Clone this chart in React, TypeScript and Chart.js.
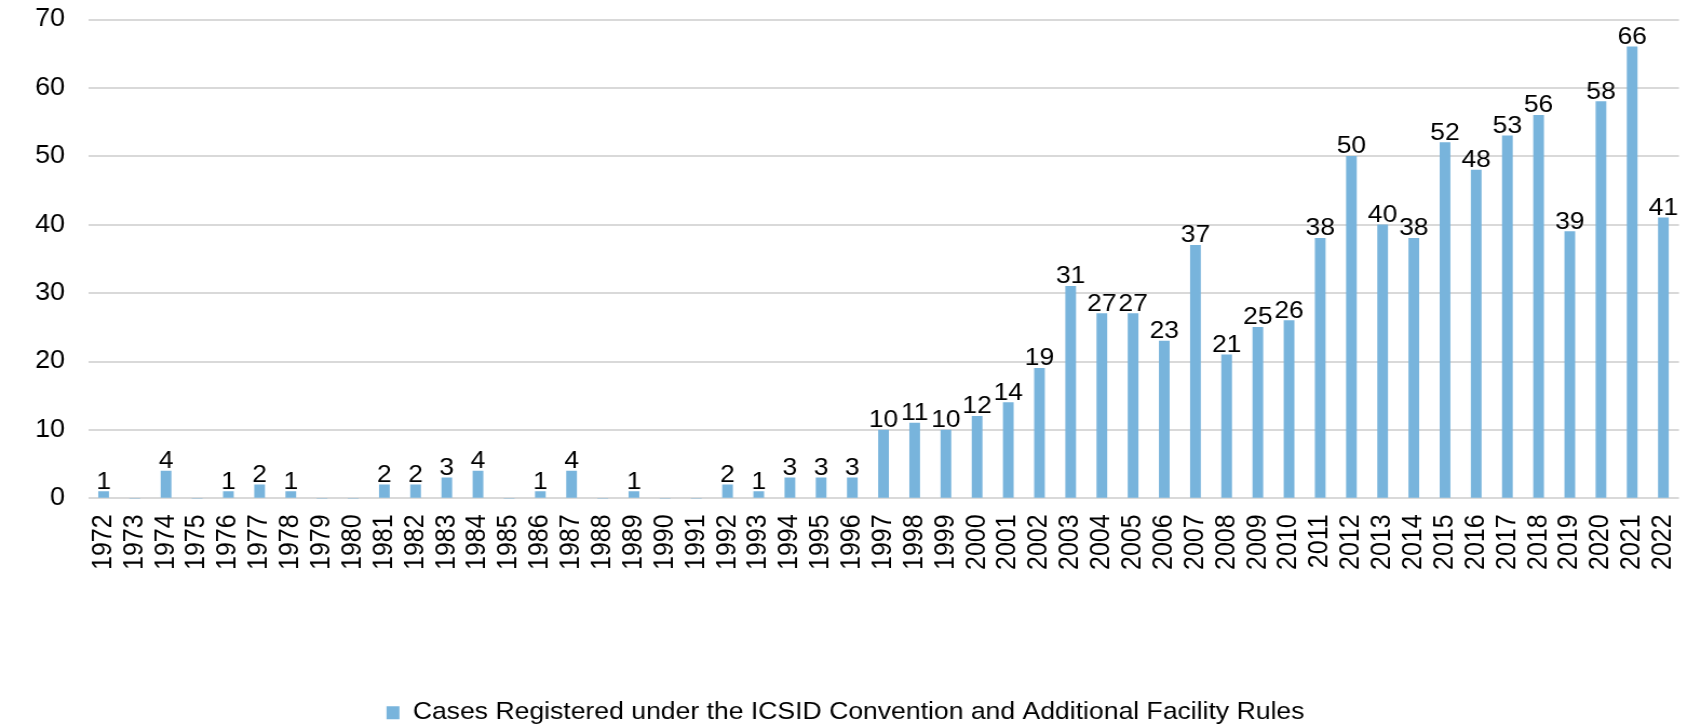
import React, { useEffect, useRef } from "react";
import { Chart, registerables } from "chart.js";

Chart.register(...registerables);

const years: string[] = [
  "1972","1973","1974","1975","1976","1977","1978","1979","1980","1981",
  "1982","1983","1984","1985","1986","1987","1988","1989","1990","1991",
  "1992","1993","1994","1995","1996","1997","1998","1999","2000","2001",
  "2002","2003","2004","2005","2006","2007","2008","2009","2010","2011",
  "2012","2013","2014","2015","2016","2017","2018","2019","2020","2021","2022",
];

const cases: number[] = [
  1, 0, 4, 0, 1, 2, 1, 0, 0, 2,
  2, 3, 4, 0, 1, 4, 0, 1, 0, 0,
  2, 1, 3, 3, 3, 10, 11, 10, 12, 14,
  19, 31, 27, 27, 23, 37, 21, 25, 26, 38,
  50, 40, 38, 52, 48, 53, 56, 39, 58, 66, 41,
];

const seriesLabel = "Cases Registered under the ICSID Convention and Additional Facility Rules";
const yTicks: number[] = [0, 10, 20, 30, 40, 50, 60, 70];

const FONT = "'Liberation Sans', Arial, sans-serif";
const STRETCH = 1.08;
const PAGE_W = 1683;
const PAGE_H = 725;
const INNER_W = Math.round(PAGE_W / STRETCH);
const INNER_H = 735;

const labelPlugin = {
  id: "barValueLabels",
  afterDatasetsDraw(chart: any) {
    const ctx = chart.ctx;
    ctx.save();
    ctx.font = `24.5px ${FONT}`;
    ctx.fillStyle = "#000000";
    ctx.textAlign = "center";
    ctx.textBaseline = "alphabetic";
    chart.data.datasets.forEach((ds: any, di: number) => {
      const meta = chart.getDatasetMeta(di);
      meta.data.forEach((bar: any, i: number) => {
        const v = ds.data[i];
        if (!v) return;
        ctx.fillText(String(v), bar.x, bar.y - 3);
      });
    });
    ctx.restore();
  },
};

export default function App() {
  const ref = useRef<HTMLCanvasElement | null>(null);
  useEffect(() => {
    document.body.style.margin = "0";
    document.body.style.overflow = "hidden";
    if (!ref.current) return;
    const chart = new Chart(ref.current, {
      type: "bar",
      data: {
        labels: years,
        datasets: [
          {
            label: seriesLabel,
            data: cases,
            backgroundColor: "#78B4DC",
            borderWidth: 0,
            barThickness: 9.26,
          },
        ],
      },
      options: {
        animation: false,
        responsive: true,
        maintainAspectRatio: false,
        devicePixelRatio: 1,
        layout: { padding: { top: 19.5, left: 11.1, right: 3.4, bottom: 0 } },
        plugins: {
          tooltip: { enabled: false },
          legend: {
            position: "bottom",
            labels: {
              font: { family: FONT, size: 24.6 },
              color: "#000000",
              boxWidth: 12,
              boxHeight: 13,
              padding: 2,
            },
          },
        },
        scales: {
          x: {
            grid: { display: false, drawTicks: false },
            border: { display: false },
            ticks: {
              font: { family: FONT, size: 25 },
              color: "#000000",
              minRotation: 90,
              maxRotation: 90,
              autoSkip: false,
              padding: 16,
            },
            afterFit: (scale: any) => {
              scale.height = 200;
              scale.paddingLeft = 0;
              scale.paddingRight = 0;
            },
          },
          y: {
            min: 0,
            max: 70,
            grid: { color: "#D9D9D9", lineWidth: 2, drawTicks: false },
            border: { display: false },
            afterBuildTicks: (scale: any) => {
              scale.ticks = yTicks.map((v) => ({ value: v }));
            },
            afterFit: (scale: any) => {
              scale.paddingTop = 0;
              scale.paddingBottom = 0;
            },
            ticks: {
              font: { family: FONT, size: 25 },
              color: "#000000",
              padding: 21.3,
            },
          },
        },
      },
      plugins: [labelPlugin],
    });
    return () => chart.destroy();
  }, []);
  return (
    <div style={{ width: PAGE_W, height: PAGE_H, overflow: "hidden", position: "relative" }}>
      <div
        style={{
          width: INNER_W,
          height: INNER_H,
          position: "absolute",
          left: 0,
          top: 0,
          transform: `scaleX(${STRETCH})`,
          transformOrigin: "0 0",
        }}
      >
        <canvas ref={ref} />
      </div>
    </div>
  );
}
